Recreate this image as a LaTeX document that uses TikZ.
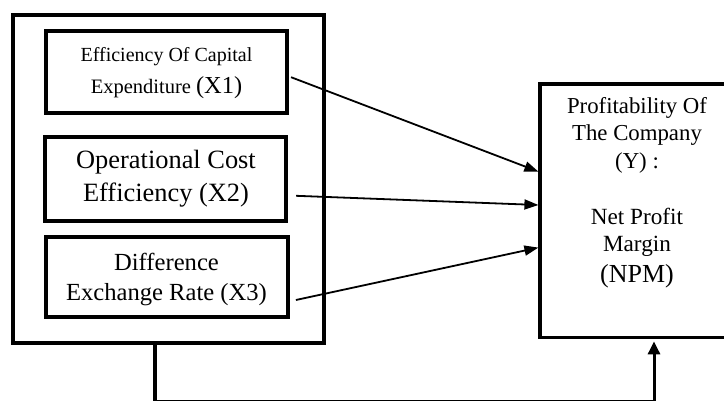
\documentclass[tikz,border=0pt]{standalone}
\usepackage{fontspec}
\setmainfont{Liberation Serif}
\usetikzlibrary{arrows.meta}
\newcommand{\fs}[1]{\fontsize{#1}{#1}\selectfont}
\begin{document}
\begin{tikzpicture}[x=1pt,y=-1pt,
  box/.style={draw,line width=4pt,rectangle,inner sep=0pt,minimum width=#1},
  txt/.style={anchor=base,inner sep=0pt},
  arr/.style={line width=1.8pt,-{Triangle[length=14pt,width=10pt]}},
  con/.style={line width=4pt}]
\useasboundingbox (0,0) rectangle (724,401);
\clip (0,0) rectangle (724,401);
\node[box=311pt,minimum height=327.5pt] (outer) at (168.5,178.75) {};
\node[box=240.7pt,minimum height=81.7pt] (b1) at (166.7,72.2) {};
\node[box=240.7pt,minimum height=83.5pt] (b2) at (165.7,178.8) {};
\node[box=242pt,minimum height=80pt] (b3) at (166.9,277) {};
\node[box=220pt,minimum height=253.8pt,line width=3.8pt] (y) at (650.3,210.6) {};
% texts
\node[txt] (t11) at (166.5,61.7) {\fs{20}Efficiency Of Capital};
\node[txt] (t12) at (166.5,94) {\fs{20.5}Expenditure \fs{24.4}(X1)};
\node[txt] (t21) at (166,168.3) {\fs{26.4}Operational Cost};
\node[txt] (t22) at (166,202) {\fs{26.4}Efficiency (X2)};
\node[txt] (t31) at (166.5,271) {\fs{24.6}Difference};
\node[txt] (t32) at (166.5,300.7) {\fs{24.6}Exchange Rate (X3)};
\node[txt] (y1) at (637,113.3) {\fs{22.8}Profitability Of};
\node[txt] (y2) at (637,141) {\fs{22.8}The Company};
\node[txt] (y3) at (637,169) {\fs{22.8}(Y) :};
\node[txt] (y4) at (637,225) {\fs{23.2}Net Profit};
\node[txt] (y5) at (637,251.7) {\fs{23.2}Margin};
\node[txt] (y6) at (637,283) {\fs{26}(NPM)};
% arrows
\draw[arr] ([xshift=2pt,yshift=-5pt]b1.east) -- ([yshift=39pt]y.west);
\draw[arr] ([xshift=8pt,yshift=-17pt]b2.east) -- ([yshift=5.6pt]y.west);
\draw[arr] ([xshift=6pt,yshift=-23pt]b3.east) -- ([yshift=-37pt]y.west);
\coordinate (c1) at (155,402.2);
\coordinate (c2) at (654,402.2);
\draw[con] (outer.south -| c1) -- (c1) -- (c2);
\draw[line width=3pt,-{Triangle[length=13pt,width=12pt]}] (c2) -- ([yshift=-2pt]y.south -| c2);
\end{tikzpicture}
\end{document}
